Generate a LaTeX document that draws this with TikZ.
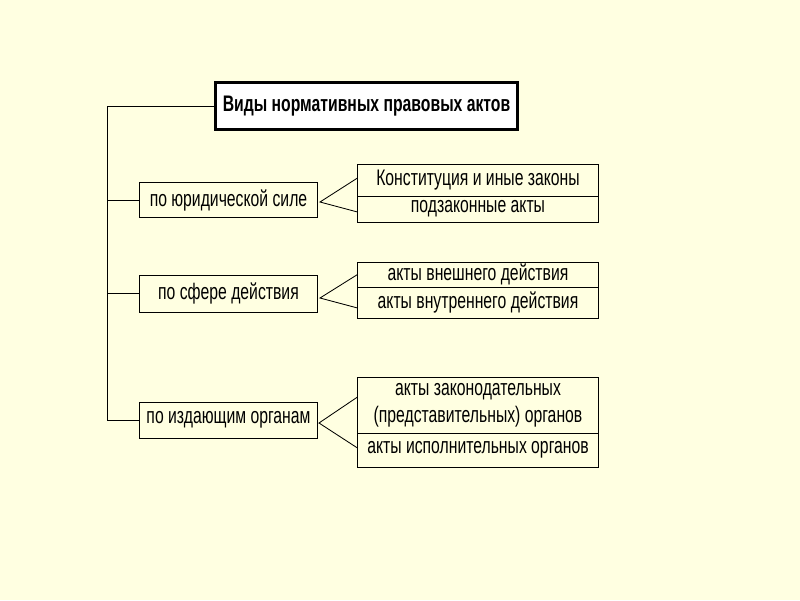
\documentclass[tikz,border=0pt]{standalone}
\usepackage{fontspec}
\setmainfont{Liberation Sans}[FakeStretch=0.7]
\usetikzlibrary{positioning,calc}
\definecolor{slidebg}{RGB}{255,255,225}
\tikzset{
  kind/.style={
    shape = rectangle,
    draw,
    line width = 0.7pt,
    inner sep = 0pt,
    font = \fontsize{16}{19}\selectfont
  },
  heading/.style={
    kind,
    fill = white,
    line width = 2pt,
    minimum width = 7.55cm,
    minimum height = 1.17cm,
    font = \fontsize{16}{19}\selectfont\bfseries
  },
  basis/.style={
    kind,
    minimum width = 4.47cm
  },
  sort/.style={
    kind,
    minimum width = 6cm,
    align = center
  },
  link/.style={
    line width = 0.6pt
  }
}
\begin{document}
\begin{tikzpicture}[x=0.025cm,y=-0.025cm]
    \fill[slidebg] (0,0) rectangle (800,600);
    \useasboundingbox (0,0) rectangle (800,600);

    \node[heading] (title) at (366.5,106) {Виды нормативных правовых актов};

    % criteria
    \node[basis, minimum height=0.875cm] (force) at (228.5,200) {по юридической силе};
    \node[basis, minimum height=0.925cm] (scope) at (228.5,293.5) {по сфере действия};
    \node[basis, minimum height=0.9cm] (organ) at (228.5,420) {по издающим органам};

    % kinds
    \node[sort, minimum height=0.8cm] (const) at (478,180) {Конституция и иные законы};
    \node[sort, minimum height=0.65cm] (bylaw) at (478,209) {подзаконные акты};
    \node[sort, minimum height=0.625cm] (outer) at (478,274.5) {акты внешнего действия};
    \node[sort, minimum height=0.775cm] (inner) at (478,302.5) {акты внутреннего действия};
    \node[sort, minimum height=1.4cm] (legis) at (478,405) {акты законодательных\\(представительных) органов};
    \node[sort, minimum height=0.85cm] (exec) at (478,450) {акты исполнительных органов};

    % trunk
    \coordinate (trunk) at (107,106);
    \draw[link] (title.west) -- (trunk) |- (organ.west);
    \draw[link] (trunk |- force.west) -- (force.west);
    \draw[link] (trunk |- scope.west) -- (scope.west);

    % fans
    \coordinate (fanA) at (320,202);
    \coordinate (fanB) at (320,298);
    \coordinate (fanC) at (319,423);
    \draw[link] ([yshift=0.05cm]const.west) -- (fanA) -- ([yshift=-0.075cm]bylaw.west);
    \draw[link] (outer.west) -- (fanB) -- ([yshift=-0.137cm]inner.west);
    \draw[link] ([yshift=0.2cm]legis.west) -- (fanC) -- ([yshift=0.05cm]exec.west);
\end{tikzpicture}
\end{document}
